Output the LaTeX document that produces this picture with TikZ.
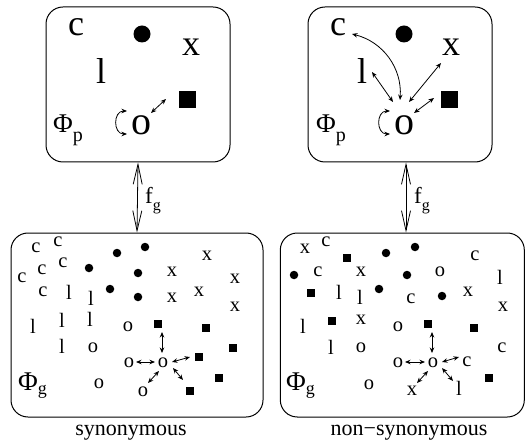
\documentclass[tikz,border=0pt]{standalone}
\usepackage{fontspec}
\setmainfont{Liberation Serif}
\usetikzlibrary{arrows.meta,calc}
\tikzset{
 box/.style={draw, line width=1pt, rounded corners=17pt, inner sep=0pt},
 big/.style={font=\fontsize{36}{36}\selectfont, inner sep=0pt},
 bigo/.style={font=\fontsize{40}{40}\selectfont, inner sep=0pt},
 sm/.style={font=\fontsize{20.5}{20.5}\selectfont, inner sep=0pt},
 bdot/.style={circle, fill, minimum size=17pt, inner sep=0pt},
 bsq/.style={fill, minimum size=17pt, inner sep=0pt},
 sdot/.style={circle, fill, minimum size=8.5pt, inner sep=0pt},
 ssq/.style={fill, minimum size=8.5pt, inner sep=0pt},
 sa/.style={{Stealth[length=5.5pt,width=4.5pt]}-{Stealth[length=5.5pt,width=4.5pt]}, line width=0.8pt},
 ba/.style={{Straight Barb[length=20pt,width=9pt]}-{Straight Barb[length=20pt,width=9pt]}, line width=0.8pt},
 phi/.style={font=\fontsize{27}{27}\selectfont, inner sep=0pt, anchor=base west},
 captext/.style={font=\fontsize{22}{22}\selectfont, inner sep=0pt},
 flab/.style={font=\fontsize{23}{23}\selectfont, inner sep=0pt, anchor=base west},
}
\begin{document}
\begin{tikzpicture}[x=1pt,y=-1pt]
\useasboundingbox (0,0) rectangle (526,443);
% boxes
\node[box, minimum width=184pt, minimum height=155pt] (TL) at (138,84.5) {};
\node[box, minimum width=184pt, minimum height=155pt] (TR) at (400,84.5) {};
\node[box, minimum width=252pt, minimum height=184pt] (BL) at (137,325) {};
\node[box, minimum width=244pt, minimum height=184pt] (BR) at (402.3,325) {};
% double arrows
\draw[ba] (TL.south) -- (BL.north);
\draw[ba] ([xshift=6pt]TR.south) -- ([xshift=6pt]TR.south |- BR.north);
\node[flab] (fl) at (145,204) {f\raisebox{-7pt}{\fontsize{16}{16}\selectfont g}};
\node[flab] (fr) at (414,204) {f\raisebox{-7pt}{\fontsize{16}{16}\selectfont g}};
% ---- top left
\node[big] (tlc) at (76,27) {c};
\node[bdot] (tldot) at (142,34) {};
\node[big] (tlx) at (191,47) {x};
\node[big] (tll) at (101,71) {l};
\node[bsq] (tlsq) at (187,100) {};
\node[bigo] (tlo) at (141,125) {o};
\node[phi] (tlphi) at (53,133) {Φ\raisebox{-9pt}{\fontsize{20}{20}\selectfont p}};
\draw[sa] ([shift={(10,-12)}]tlo.center) -- ([shift={(-21,-1)}]tlsq.center);
\draw[sa] ([shift={(-14,-14)}]tlo.center) .. controls +(-14,0) and +(-14,0) .. ([shift={(-14,9)}]tlo.center);
% ---- top right
\node[big] (trc) at (338,27) {c};
\node[bdot] (trdot) at (404,34) {};
\node[big] (trx) at (451,47) {x};
\node[big] (trl) at (362,71) {l};
\node[bsq] (trsq) at (449,100) {};
\node[bigo] (tro) at (404,125) {o};
\node[phi] (trphi) at (316,133) {Φ\raisebox{-9pt}{\fontsize{20}{20}\selectfont p}};
\draw[sa] ([shift={(-14,-14)}]tro.center) .. controls +(-14,0) and +(-14,0) .. ([shift={(-14,9)}]tro.center);
\draw[sa] ([shift={(14,7)}]trc.center) to[bend left=40] ([shift={(-4,-25)}]tro.center);
\draw[sa] ([shift={(10,1)}]trl.center) -- ([shift={(-11,-23)}]tro.center);
\draw[sa] ([shift={(-10,16)}]trx.center) -- ([shift={(5,-23)}]tro.center);
\draw[sa] ([shift={(-15,-2)}]trsq.center) -- ([shift={(10,-12)}]tro.center);
% ---- bottom left
\foreach \p [count=\i] in {(36,248),(58,242),(63,263),(42,270),(22,278),(43,292)}
  \node[sm] (blc\i) at \p {c};
\foreach \p [count=\i] in {(69,292),(91,298),(33,326),(62,320),(90,319),(62,346)}
  \node[sm] (bll\i) at \p {l};
\foreach \p [count=\i] in {(117,253),(145,247),(89,268),(138,273),(110,289),(138,297)}
  \node[sdot] (bldot\i) at \p {};
\foreach \p [count=\i] in {(207,256),(172,272),(235,279),(199,292),(172,298),(235,307)}
  \node[sm] (blx\i) at \p {x};
\foreach \p [count=\i] in {(128,327),(93,348),(99,384)}
  \node[sm] (blo\i) at \p {o};
\foreach \p [count=\i] in {(206,328),(233,348),(219,378)}
  \node[ssq] (blsq\i) at \p {};
\node[sm] (blO) at (163,363) {o};
\node[sm] (bloL) at (129,363) {o};
\node[sm] (bloLL) at (143,392) {o};
\node[ssq] (blsqU) at (158,324) {};
\node[ssq] (blsqR) at (199,357) {};
\node[ssq] (blsqLR) at (190,391) {};
\node[phi] (blphi) at (18,390) {Φ\raisebox{-4pt}{\fontsize{18}{18}\selectfont g}};
\draw[sa] ([shift={(-1,-10)}]blO.center) -- ([shift={(4,8)}]blsqU.center);
\draw[sa] ([shift={(-8,-1)}]blO.center) -- ([shift={(7,-1)}]bloL.center);
\draw[sa] ([shift={(9,-1)}]blO.center) -- ([shift={(-9,0)}]blsqR.center);
\draw[sa] ([shift={(10,5)}]blO.center) -- ([shift={(-7,-11)}]blsqLR.center);
\draw[sa] ([shift={(-4,8)}]blO.center) -- ([shift={(5,-9)}]bloLL.center);
% ---- bottom right
\foreach \p [count=\i] in {(326,242),(475,256),(318,272),(411,299),(502,348)}
  \node[sm] (brc\i) at \p {c};
\foreach \p [count=\i] in {(305,249),(361,272),(468,292),(503,307),(361,320)}
  \node[sm] (brx\i) at \p {x};
\foreach \p [count=\i] in {(500,277),(339,292),(360,297),(303,326),(331,347)}
  \node[sm] (brl\i) at \p {l};
\foreach \p [count=\i] in {(386,253),(415,247),(294,275),(407,275),(379,289),(442,296)}
  \node[sdot] (brdot\i) at \p {};
\foreach \p [count=\i] in {(347,258),(311,293),(332,321),(474,328),(489,378)}
  \node[ssq] (brsq\i) at \p {};
\foreach \p [count=\i] in {(440,272),(398,327),(361,348),(369,385)}
  \node[sm] (bro\i) at \p {o};
\node[sm] (brO) at (433,363) {o};
\node[sm] (broL) at (398,363) {o};
\node[ssq] (brsqU) at (428,324) {};
\node[sm] (brcR) at (467,362) {c};
\node[sm] (brxLL) at (412,391) {x};
\node[sm] (brlLR) at (459,388) {l};
\node[phi] (brphi) at (286,390) {Φ\raisebox{-4pt}{\fontsize{18}{18}\selectfont g}};
\draw[sa] ([shift={(-1,-10)}]brO.center) -- ([shift={(4,8)}]brsqU.center);
\draw[sa] ([shift={(-8,-1)}]brO.center) -- ([shift={(7,-1)}]broL.center);
\draw[sa] ([shift={(9,-1)}]brO.center) -- ([shift={(-8,-5)}]brcR.center);
\draw[sa] ([shift={(-5,8)}]brO.center) -- ([shift={(5,-8)}]brxLL.center);
\draw[sa] ([shift={(9,5)}]brO.center) -- ([shift={(-6,-7)}]brlLR.center);
% captions
\node[captext] (cap1) at (131,433) {synonymous};
\node[captext] (cap2) at (409,433) {non−synonymous};
\end{tikzpicture}
\end{document}
